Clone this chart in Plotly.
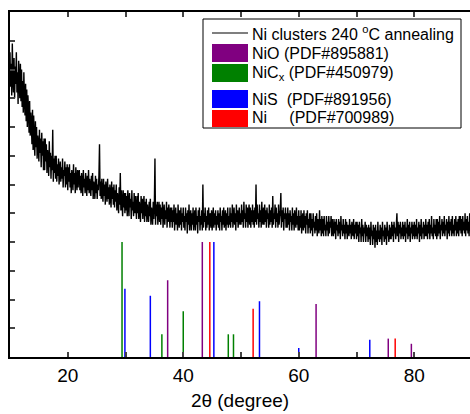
import plotly.graph_objects as go

# ---------------- data ----------------
two_theta_start = 10.0
two_theta_step = 0.1
intensity = [
    10.6, 9.4, 10.2, 9.1, 10.9, 9.7, 9.2, 10.4, 9.0, 10.1, 9.5, 10.6, 9.2, 9.9, 8.8, 10.3, 9.6, 9.0, 10.2, 8.9,
    10.0, 8.7, 9.6, 8.5, 9.9, 8.9, 8.4, 9.5, 8.2, 9.3, 8.0, 9.1, 8.6, 7.8, 8.9, 7.7, 8.5, 8.1, 7.4, 8.6,
    7.2, 8.4, 7.5, 7.0, 8.2, 7.3, 8.0, 6.9, 7.7, 7.4, 6.8, 7.9, 7.1, 7.6, 6.6, 7.8, 7.0, 7.5, 6.5, 7.6,
    6.5, 7.6, 6.8, 7.4, 6.4, 7.2, 6.9, 6.3, 7.5, 6.6, 7.1, 6.2, 7.0, 6.5, 7.9, 6.1, 6.9, 6.4, 7.0, 6.2,
    7.0, 6.1, 6.7, 6.3, 6.9, 6.0, 6.5, 6.8, 6.1, 6.6, 6.2, 6.9, 5.9, 6.5, 6.3, 6.8, 5.9, 6.6, 6.0, 6.7,
    5.8, 6.6, 6.1, 6.7, 5.9, 6.4, 5.7, 6.5, 6.2, 5.8, 6.7, 6.0, 6.4, 5.7, 6.6, 6.1, 5.8, 6.5, 5.9, 6.4,
    6.5, 5.8, 6.3, 5.7, 6.4, 6.0, 5.6, 6.5, 5.9, 6.2, 5.7, 6.4, 6.0, 5.6, 6.3, 5.8, 6.5, 5.7, 6.2, 5.9,
    5.6, 6.3, 5.8, 6.4, 5.5, 6.1, 5.9, 5.5, 6.3, 5.7, 6.2, 5.5, 6.0, 5.8, 6.3, 7.4, 5.6, 6.1, 5.5, 6.2,
    5.7, 5.4, 6.2, 5.6, 6.0, 5.3, 6.1, 5.8, 5.4, 6.2, 5.5, 5.9, 5.3, 6.0, 5.6, 5.2, 6.1, 5.5, 5.9, 5.3,
    6.0, 5.2, 5.8, 5.4, 6.0, 5.1, 5.7, 5.5, 5.0, 5.9, 5.3, 6.4, 5.1, 5.8, 5.4, 4.9, 5.8, 5.2, 5.7, 5.0,
    5.7, 5.1, 5.6, 4.9, 5.8, 5.3, 4.9, 5.7, 5.2, 5.5, 4.8, 5.8, 5.1, 5.4, 4.9, 5.7, 5.0, 5.6, 5.2, 4.8,
    5.6, 5.0, 5.7, 4.8, 5.4, 5.1, 4.7, 5.6, 5.0, 5.5, 4.8, 5.3, 5.6, 4.7, 5.4, 4.9, 5.5, 4.7, 5.3, 5.0,
    4.7, 5.4, 4.9, 5.5, 4.6, 5.2, 5.0, 4.6, 5.4, 4.8, 5.3, 6.9, 4.6, 5.3, 4.9, 5.4, 4.6, 5.1, 5.4, 4.7,
    5.3, 4.6, 5.2, 4.8, 5.4, 4.5, 5.0, 5.3, 4.6, 5.1, 4.8, 5.4, 4.5, 5.2, 4.7, 5.3, 4.9, 4.5, 5.2, 4.7,
    5.2, 4.5, 5.1, 4.7, 5.3, 4.4, 4.9, 5.2, 4.6, 5.0, 4.4, 5.3, 4.8, 4.5, 5.1, 4.6, 5.2, 4.4, 5.0, 4.7,
    5.2, 4.5, 4.9, 4.4, 5.2, 4.7, 5.0, 4.3, 5.1, 4.6, 5.3, 4.4, 4.9, 5.1, 4.4, 5.0, 4.6, 5.2, 4.4, 4.8,
    5.1, 4.4, 5.2, 4.6, 4.9, 4.3, 5.1, 4.7, 5.2, 4.4, 4.9, 4.6, 5.1, 4.4, 6.0, 4.5, 5.0, 4.7, 5.2, 4.4,
    4.9, 4.5, 5.1, 4.6, 5.2, 4.4, 4.9, 5.0, 4.5, 5.1, 4.4, 4.8, 5.2, 4.5, 5.0, 4.6, 5.1, 4.4, 4.9, 4.6,
    5.1, 4.5, 5.0, 4.4, 5.2, 4.7, 4.9, 4.4, 5.1, 4.6, 5.2, 4.5, 4.8, 5.1, 4.4, 5.0, 4.6, 5.2, 4.5, 4.9,
    4.6, 5.2, 4.5, 5.0, 4.7, 5.3, 4.5, 4.9, 5.2, 4.6, 5.0, 4.4, 5.3, 4.7, 5.1, 4.5, 4.9, 5.2, 4.6, 5.0,
    4.6, 5.3, 4.7, 5.1, 4.5, 5.4, 4.8, 5.0, 4.5, 5.3, 4.7, 5.2, 4.5, 5.0, 5.3, 4.6, 5.2, 4.5, 5.1, 4.7,
    5.3, 4.6, 5.1, 4.5, 5.2, 4.7, 6.0, 4.6, 5.3, 4.8, 5.0, 4.5, 5.3, 4.7, 5.1, 4.5, 5.4, 4.8, 4.6, 5.2,
    4.6, 5.3, 4.7, 5.1, 4.5, 5.2, 4.8, 5.0, 4.5, 5.3, 4.6, 5.1, 4.7, 5.2, 4.5, 5.6, 4.6, 5.0, 4.8, 5.3,
    4.5, 5.2, 4.7, 5.0, 4.5, 5.3, 4.6, 4.9, 5.1, 5.7, 4.5, 5.1, 4.7, 5.2, 4.4, 5.0, 4.8, 5.2, 4.5, 5.0,
    4.5, 5.2, 4.6, 5.0, 4.4, 5.1, 4.7, 4.9, 4.4, 5.2, 4.6, 5.0, 4.4, 5.1, 4.8, 4.5, 5.2, 4.6, 4.9, 4.4,
    5.1, 4.4, 4.9, 4.5, 5.1, 4.3, 4.8, 5.0, 4.4, 5.1, 4.5, 4.9, 4.3, 5.0, 4.6, 5.1, 4.3, 4.8, 4.5, 5.0,
    4.3, 5.0, 4.4, 4.8, 4.2, 5.0, 4.5, 4.7, 4.3, 4.9, 4.4, 5.0, 4.2, 4.8, 4.5, 4.3, 5.1, 4.4, 4.8, 4.2,
    4.9, 4.3, 4.8, 4.2, 4.9, 4.4, 4.6, 4.2, 4.9, 4.4, 4.7, 4.2, 4.9, 4.3, 4.7, 4.5, 4.9, 4.2, 4.8, 4.4,
    4.2, 4.8, 4.3, 4.7, 4.1, 4.8, 4.4, 4.6, 4.2, 4.8, 4.3, 4.7, 4.1, 4.9, 4.4, 4.6, 4.2, 4.8, 4.3, 4.6,
    4.1, 4.8, 4.3, 4.7, 4.1, 4.6, 4.4, 4.2, 4.8, 4.3, 4.6, 4.1, 4.7, 4.4, 4.2, 4.8, 4.1, 4.6, 4.3, 4.7,
    4.1, 4.7, 4.2, 4.6, 4.0, 4.7, 4.3, 4.5, 4.0, 4.8, 4.2, 4.6, 4.0, 4.5, 4.3, 4.7, 4.0, 4.6, 4.2, 4.5,
    4.0, 4.6, 4.1, 4.5, 3.9, 4.7, 4.2, 4.4, 3.9, 4.6, 4.1, 4.5, 3.8, 4.6, 4.0, 4.4, 3.9, 4.7, 4.1, 4.4,
    4.0, 4.6, 4.1, 4.5, 3.9, 4.7, 4.2, 4.4, 4.0, 4.6, 4.1, 4.5, 3.9, 4.7, 4.2, 4.4, 4.0, 4.6, 4.1, 4.5,
    4.1, 4.7, 4.2, 4.6, 4.0, 4.7, 4.3, 4.5, 4.1, 4.6, 5.0, 4.2, 4.7, 4.0, 4.6, 4.3, 4.7, 4.1, 4.5, 4.2,
    4.7, 4.1, 4.6, 4.2, 4.7, 4.0, 4.5, 4.3, 4.8, 4.1, 4.6, 4.2, 4.7, 4.0, 4.5, 4.3, 4.7, 4.1, 4.6, 4.2,
    4.7, 4.1, 4.6, 4.2, 4.8, 4.1, 4.5, 4.3, 4.7, 4.0, 4.6, 4.2, 4.8, 4.1, 4.5, 4.3, 4.7, 4.1, 4.6, 4.2,
    4.8, 4.2, 4.6, 4.1, 4.7, 4.3, 4.8, 4.1, 4.6, 4.3, 4.9, 4.2, 4.5, 4.1, 4.8, 4.3, 4.6, 4.2, 4.8, 4.1,
    4.8, 4.2, 4.7, 4.3, 4.9, 4.1, 4.6, 4.4, 4.8, 4.2, 4.7, 4.3, 4.9, 4.2, 4.6, 4.4, 4.8, 4.1, 4.7, 4.3,
    4.9, 4.2, 4.7, 4.4, 4.8, 4.2, 4.9, 4.3, 4.6, 4.2, 4.8, 4.4, 4.9, 4.2, 4.7, 4.3, 4.8, 4.2, 4.9, 4.4,
    4.9, 4.3, 4.8, 4.2, 4.9, 4.4, 4.7, 4.3, 5.0, 4.2, 4.8, 4.4, 4.9, 4.3, 4.7, 4.2, 5.0, 4.4, 4.8, 4.3,
    4.6,
]
two_theta = [round(two_theta_start + two_theta_step * i, 1) for i in range(len(intensity))]

nio_pos = [37.3, 43.3, 63.0, 75.5, 79.5]
nio_h = [2.67, 4.0, 1.84, 0.64, 0.46]
nicx_pos = [29.4, 36.3, 40.0, 47.8, 48.7]
nicx_h = [4.0, 0.79, 1.59, 0.79, 0.79]
nis_pos = [29.9, 34.3, 45.3, 53.2, 60.0, 72.3]
nis_h = [2.37, 2.13, 4.0, 1.94, 0.31, 0.6]
ni_pos = [44.6, 52.1, 76.7]
ni_h = [4.0, 1.68, 0.64]

x_tick_vals = [10, 20, 30, 40, 50, 60, 70, 80, 90]
x_tick_text = ["", "20", "", "40", "", "60", "", "80", ""]

legend_labels = [
    "Ni clusters 240 <sup>o</sup>C annealing",
    "NiO (PDF#895881)",
    "NiC<sub>x</sub> (PDF#450979)",
    "NiS\u00a0 (PDF#891956)",
    "Ni\u00a0\u00a0\u00a0\u00a0 (PDF#700989)",
]

# ---------------- figure ----------------
W, H = 470, 414
ML, MR, MT, MB = 10, 0, 12, 57
PW, PH = W - ML - MR, H - MT - MB


def px(xp):
    return (xp - ML) / PW


def py(yp):
    return (H - MB - yp) / PH


def sticks(pos, h):
    xs, ys = [], []
    for p, v in zip(pos, h):
        xs += [p, p, None]
        ys += [0, v, None]
    return xs, ys


fig = go.Figure()
stick_sets = [
    (nicx_pos, nicx_h, "#008000"),
    (nis_pos, nis_h, "#0000ff"),
    (nio_pos, nio_h, "#800080"),
    (ni_pos, ni_h, "#ff0000"),
]
for pos, h, col in stick_sets:
    xs, ys = sticks(pos, h)
    fig.add_trace(go.Scatter(x=xs, y=ys, mode="lines", line=dict(color=col, width=1.5),
                             showlegend=False, hoverinfo="skip"))

fig.add_trace(go.Scatter(x=two_theta, y=intensity, mode="lines",
                         line=dict(color="black", width=1.4, simplify=False), showlegend=False))

FONT = "Liberation Sans, Arial, sans-serif"
fig.update_layout(
    width=W, height=H,
    margin=dict(l=ML, r=MR, t=MT, b=MB),
    paper_bgcolor="white", plot_bgcolor="white",
    font=dict(family=FONT, color="black", size=19),
    xaxis=dict(range=[10, 10 + 80 * PW / 462], tickmode="array", tickvals=x_tick_vals,
               ticktext=x_tick_text, ticks="inside", ticklen=5, tickwidth=1.5,
               showline=True, linewidth=1.5, linecolor="black", mirror="ticks",
               showgrid=False, zeroline=False, tickfont=dict(size=19), automargin=False,
               title=dict(text="2θ (degree)", font=dict(size=19), standoff=9)),
    yaxis=dict(range=[0, 12], dtick=1, ticks="inside", ticklen=5, tickwidth=1.5,
               showline=True, linewidth=1.5, linecolor="black", mirror=False, automargin=False,
               showticklabels=False, showgrid=False, zeroline=False),
)

# legend drawn manually
shapes = [dict(type="rect", xref="paper", yref="paper", x0=px(203), x1=px(461), y0=py(128), y1=py(19),
               line=dict(color="black", width=1), fillcolor="white", layer="above")]
shapes.append(dict(type="line", xref="paper", yref="paper", x0=px(212), x1=px(248), y0=py(33), y1=py(33),
                   line=dict(color="black", width=1.2), layer="above"))
square_rows = [(44, 62, "#800080"), (64, 82, "#008000"), (90, 108, "#0000ff"), (110, 127, "#ff0000")]
for y0, y1, col in square_rows:
    shapes.append(dict(type="rect", xref="paper", yref="paper", x0=px(212), x1=px(248), y0=py(y1), y1=py(y0),
                       line=dict(width=0), fillcolor=col, layer="above"))
fig.update_layout(shapes=shapes)

text_rows = [33, 53, 73, 99, 118]
for label, yc in zip(legend_labels, text_rows):
    fig.add_annotation(xref="paper", yref="paper", x=px(251), y=py(yc), text=label, showarrow=False,
                       xanchor="left", yanchor="middle", font=dict(size=16, family=FONT), borderpad=0)

fig.write_html("out.html", config={"displayModeBar": False},
               post_script="document.body.style.margin='0px';")
